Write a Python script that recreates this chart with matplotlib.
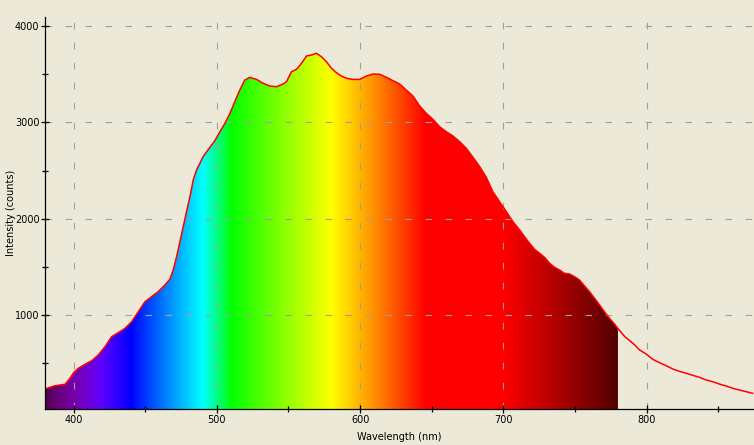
import numpy as np
import matplotlib
matplotlib.use("Agg")
import matplotlib.pyplot as plt
from matplotlib.ticker import MultipleLocator

# spectrum (wavelength nm, intensity counts)
wavelength = [
    380, 387, 394, 397.4, 400, 403.2, 407.9, 412.6, 417.2, 421.9, 426.5, 431.1,
    435.8, 440.5, 445.1, 449.8, 454.4, 459, 463.7, 467.2, 469.5, 471.9, 474.2,
    476.5, 478.8, 481.2, 483.5, 485.8, 488.1, 490.4, 495.1, 498.6, 502.1, 505.6,
    509.1, 512.5, 516, 519.5, 523, 527.7, 532.3, 537, 541.7, 546.3, 548.6, 552.1,
    555.6, 559.1, 562.6, 566, 569.5, 573, 576.5, 580, 583.5, 586.9, 590.5, 595.1,
    599.7, 604.4, 609, 613.7, 618.4, 623, 627.6, 632.2, 636.9, 641.6, 646.2,
    650.9, 655.5, 660.2, 664.8, 669.5, 674.1, 678.8, 683.5, 688.1, 692.7, 697.4,
    702.1, 706.7, 711.4, 714.8, 718.3, 721.8, 725.3, 728.8, 732.3, 735.8, 739.3,
    742.7, 746.2, 749.7, 753.2, 756.7, 760.2, 763.7, 767.2, 770.6, 774.1, 777.6,
    780, 784.8, 788.3, 791.8, 795.1, 799.7, 804.3, 809, 813.7, 818.3, 823, 827.7,
    832.2, 836.9, 841.6, 846.2, 850.9, 855.5, 860.2, 864.8, 869.5, 874,
]
intensity = [
    232, 266, 280, 343, 401, 446, 488, 525, 585, 671, 775, 816,
    862, 930, 1034, 1138, 1190, 1242, 1311, 1371, 1467, 1606, 1761,
    1917, 2073, 2229, 2402, 2506, 2575, 2644, 2741, 2810, 2903, 2990,
    3094, 3215, 3336, 3440, 3468, 3447, 3406, 3378, 3371, 3399, 3423, 3527,
    3551, 3614, 3690, 3700, 3718, 3682, 3630, 3562, 3516, 3482, 3458, 3447,
    3447, 3482, 3503, 3500, 3468, 3433, 3399, 3336, 3274, 3170, 3094,
    3032, 2955, 2903, 2859, 2800, 2731, 2638, 2540, 2430, 2280, 2177,
    2073, 1969, 1883, 1813, 1745, 1682, 1641, 1599, 1537, 1495, 1467,
    1433, 1426, 1398, 1363, 1301, 1242, 1173, 1104, 1034, 966, 907,
    860, 775, 733, 688, 637, 595, 540, 505, 474, 439, 415, 395,
    374, 353, 325, 307, 283, 263, 239, 221, 204, 187,
]

x_ticks = [400, 500, 600, 700, 800]
y_ticks = [1000, 2000, 3000, 4000]
fill_range = (380, 780)

BG = "#ECE9D8"


def wavelength_to_rgb(w, gamma=0.95):
    # classic visible spectrum approximation
    if w < 440:
        r, g, b = -(w - 440) / 60, 0.0, 1.0
    elif w < 490:
        r, g, b = 0.0, (w - 440) / 50, 1.0
    elif w < 510:
        r, g, b = 0.0, 1.0, -(w - 510) / 20
    elif w < 580:
        r, g, b = (w - 510) / 70, 1.0, 0.0
    elif w < 645:
        r, g, b = 1.0, -(w - 645) / 65, 0.0
    else:
        r, g, b = 1.0, 0.0, 0.0
    if w < 420:
        f = 0.3 + 0.7 * (w - 380) / 40
    elif w > 700:
        f = 0.3 + 0.7 * (780 - w) / 80
    else:
        f = 1.0
    return [(c * f) ** gamma if c > 0 else 0.0 for c in (r, g, b)]


wl = np.array(wavelength)
iv = np.array(intensity)

fig = plt.figure(figsize=(7.54, 4.45), dpi=100, facecolor=BG)
ax = fig.add_axes([45 / 754, 36 / 445, 709 / 754, 392 / 445], facecolor=BG)

ylo, yhi = 24, 4095
ax.set_xlim(380, 875)
ax.set_ylim(ylo, yhi)

# spectrum colour fill clipped to the area under the curve
grid_wl = np.linspace(fill_range[0], fill_range[1], 801)
img = np.array([[wavelength_to_rgb(w) for w in grid_wl]])
im = ax.imshow(img, extent=[fill_range[0], fill_range[1], ylo, yhi],
               aspect="auto", interpolation="bilinear", zorder=1)
mask = (wl >= fill_range[0]) & (wl <= fill_range[1])
poly = ax.fill_between(wl[mask], ylo, iv[mask], facecolor="none",
                       edgecolor="none")
im.set_clip_path(poly.get_paths()[0], transform=ax.transData)

ax.plot(wl, iv, color="red", lw=1.1, zorder=3)

ax.set_xticks(x_ticks)
ax.set_yticks(y_ticks)
ax.xaxis.set_minor_locator(MultipleLocator(50))
ax.yaxis.set_minor_locator(MultipleLocator(500))
ax.set_axisbelow(False)
ax.grid(True, which="major", color="#a0a0a0", linestyle=(0, (6, 12)), lw=0.8)

for s in ("top", "right"):
    ax.spines[s].set_visible(False)
for s in ("left", "bottom"):
    ax.spines[s].set_linewidth(0.9)
    ax.spines[s].set_zorder(4)

ax.tick_params(axis="both", which="major", direction="inout", length=6,
               width=0.9, labelsize=7, pad=1, colors="black")
ax.tick_params(axis="both", which="minor", direction="inout", length=4,
               width=0.9)

ax.set_xlabel("Wavelength (nm)", fontsize=7)
ax.set_ylabel("Intensity (counts)", fontsize=7)
ax.xaxis.set_label_coords(0.5, -0.058)
ax.yaxis.set_label_coords(-0.041, 0.5)

fig.savefig("out.png", dpi=100, facecolor=BG)
